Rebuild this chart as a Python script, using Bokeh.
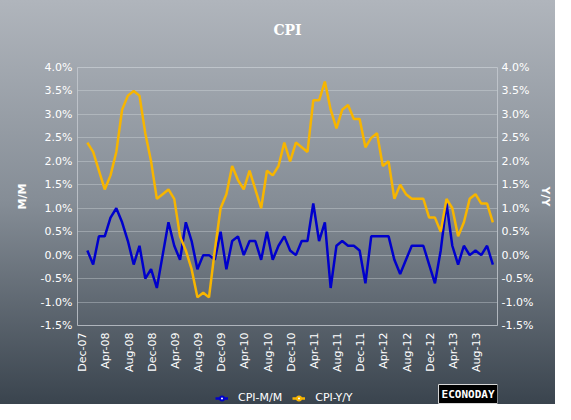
import math
from bokeh.plotting import figure
from bokeh.layouts import column
from bokeh.models import (Range1d, LinearAxis, FixedTicker, PrintfTickFormatter,
                          Legend, LegendItem, Label, ColumnDataSource)
from bokeh.embed import file_html
from bokeh.resources import INLINE

# ---- data -------------------------------------------------------------
# monthly observations, Dec-07 .. Oct-13 (index 0 = Dec-07)
cpi_mm = [0.1, -0.2, 0.4, 0.4, 0.8, 1.0, 0.7, 0.3, -0.2, 0.2, -0.5, -0.3,
          -0.7, 0.0, 0.7, 0.2, -0.1, 0.7, 0.3, -0.3, 0.0, 0.0, -0.1, 0.5,
          -0.3, 0.3, 0.4, 0.0, 0.3, 0.3, -0.1, 0.5, -0.1, 0.2, 0.4, 0.1,
          0.0, 0.3, 0.3, 1.1, 0.3, 0.7, -0.7, 0.2, 0.3, 0.2, 0.2, 0.1,
          -0.6, 0.4, 0.4, 0.4, 0.4, -0.1, -0.4, -0.1, 0.2, 0.2, 0.2, -0.2,
          -0.6, 0.1, 1.1, 0.2, -0.2, 0.2, 0.0, 0.1, 0.0, 0.2, -0.2]
cpi_yy = [2.4, 2.2, 1.8, 1.4, 1.7, 2.2, 3.1, 3.4, 3.5, 3.4, 2.6, 2.0,
          1.2, 1.3, 1.4, 1.2, 0.4, 0.1, -0.3, -0.9, -0.8, -0.9, 0.1, 1.0,
          1.3, 1.9, 1.6, 1.4, 1.8, 1.4, 1.0, 1.8, 1.7, 1.9, 2.4, 2.0,
          2.4, 2.3, 2.2, 3.3, 3.3, 3.7, 3.1, 2.7, 3.1, 3.2, 2.9, 2.9,
          2.3, 2.5, 2.6, 1.9, 2.0, 1.2, 1.5, 1.3, 1.2, 1.2, 1.2, 0.8,
          0.8, 0.5, 1.2, 1.0, 0.4, 0.7, 1.2, 1.3, 1.1, 1.1, 0.7]
month_index = list(range(len(cpi_mm)))

tick_months = [0, 4, 8, 12, 16, 20, 24, 28, 32, 36, 40, 44, 48, 52, 56, 60, 64, 68]
tick_labels = ["Dec-07", "Apr-08", "Aug-08", "Dec-08", "Apr-09", "Aug-09",
               "Dec-09", "Apr-10", "Aug-10", "Dec-10", "Apr-11", "Aug-11",
               "Dec-11", "Apr-12", "Aug-12", "Dec-12", "Apr-13", "Aug-13"]
y_ticks = [-1.5, -1.0, -0.5, 0.0, 0.5, 1.0, 1.5, 2.0, 2.5, 3.0, 3.5, 4.0]

series_names = ["CPI-M/M", "CPI-Y/Y"]
title_text = "CPI"
left_label = "M/M"
right_label = "Y/Y"
logo_text = "ECONODAY"

# ---- style -------------------------------------------------------------
BLUE = "#0000cc"
GOLD = "#f7b500"
WHITE = "#ffffff"
FONT = "DejaVu Sans"
label_shift = -0.8
W = 555
FRAME_W = 423  # width of the aligned plot frames (555 - 77 - 55)


def strip(height):
    f = figure(width=W, height=height, output_backend="svg", toolbar_location=None,
               x_range=Range1d(0, FRAME_W), y_range=Range1d(0, height),
               x_axis_location=None, y_axis_location=None,
               min_border=0, title=None)
    f.background_fill_alpha = 0
    f.border_fill_alpha = 0
    f.outline_line_color = None
    f.grid.visible = False
    return f


# ---- title strip -------------------------------------------------------
top = strip(40)
top.add_layout(Label(x=FRAME_W / 2, y=11, text=title_text, text_align="center",
                     text_baseline="middle", text_color=WHITE,
                     text_font="DejaVu Serif", text_font_style="bold",
                     text_font_size="14px"))

# ---- main chart --------------------------------------------------------
src = ColumnDataSource(dict(x=month_index, mm=cpi_mm, yy=cpi_yy))

p = figure(width=W, height=334, output_backend="svg", toolbar_location=None,
           x_range=Range1d(-1.7, 70.8), y_range=Range1d(-1.5, 4.0),
           min_border_left=77, min_border_right=55, min_border_top=27,
           min_border_bottom=48, title=None)
p.background_fill_alpha = 0
p.border_fill_alpha = 0
p.outline_line_color = "#c5cbd1"
p.outline_line_alpha = 0.8

r_mm = p.line("x", "mm", source=src, line_color=BLUE, line_width=2.5)
r_yy = p.line("x", "yy", source=src, line_color=GOLD, line_width=2.5)


def style_axis(ax):
    ax.axis_line_color = None
    ax.major_tick_line_color = None
    ax.minor_tick_line_color = None
    ax.major_tick_out = 0
    ax.major_tick_in = 0
    ax.minor_tick_out = 0
    ax.minor_tick_in = 0
    ax.major_label_text_color = WHITE
    ax.major_label_text_font = FONT
    ax.major_label_text_font_size = "11px"
    ax.axis_label_text_color = WHITE
    ax.axis_label_text_font = FONT
    ax.axis_label_text_font_size = "11px"
    ax.axis_label_text_font_style = "bold"


yt = FixedTicker(ticks=y_ticks)
yl = p.yaxis[0]
yl.ticker = yt
yl.formatter = PrintfTickFormatter(format="%.1f%%")
yl.axis_label = left_label
style_axis(yl)
yl.major_label_standoff = 5
yl.axis_label_standoff = 9

yr = LinearAxis(ticker=FixedTicker(ticks=y_ticks),
                formatter=PrintfTickFormatter(format="%.1f%%"),
                axis_label=right_label)
style_axis(yr)
yr.major_label_standoff = 4
yr.axis_label_standoff = 3
p.add_layout(yr, "right")

xa = p.xaxis[0]
tick_pos = [m + label_shift for m in tick_months]
xa.ticker = FixedTicker(ticks=tick_pos)
xa.major_label_overrides = {pos: lab for pos, lab in zip(tick_pos, tick_labels)}
xa.major_label_orientation = math.pi / 2
style_axis(xa)
xa.major_label_standoff = 7

p.xgrid.visible = False
p.ygrid.ticker = yt
p.ygrid.grid_line_color = "#dde1e5"
p.ygrid.grid_line_alpha = 0.35

# ---- legend strip ------------------------------------------------------
leg = strip(30)
# same series, hidden: only their legend glyphs are shown
l_mm = leg.line(month_index, cpi_mm, line_color=BLUE, line_width=2.5, visible=False)
s_mm = leg.scatter(month_index, cpi_mm, marker="circle", size=7, fill_color=WHITE,
                   line_color=BLUE, line_width=2, visible=False)
l_yy = leg.line(month_index, cpi_yy, line_color=GOLD, line_width=2.5, visible=False)
s_yy = leg.scatter(month_index, cpi_yy, marker="circle", size=7, fill_color=WHITE,
                   line_color=GOLD, line_width=2, visible=False)

legend = Legend(items=[LegendItem(label=series_names[0], renderers=[l_mm, s_mm]),
                       LegendItem(label=series_names[1], renderers=[l_yy, s_yy])],
                orientation="horizontal", location=(138, 0),
                background_fill_alpha=0, border_line_alpha=0,
                inactive_fill_alpha=0,
                label_text_color=WHITE, label_text_font=FONT,
                label_text_font_size="11px", glyph_width=13, glyph_height=10,
                label_height=12, label_standoff=10, spacing=10, padding=0, margin=0)
leg.add_layout(legend)

logo = Label(x=FRAME_W, y=1, text=logo_text, text_align="right",
             text_baseline="bottom", text_color=WHITE,
             text_font="DejaVu Sans Mono", text_font_style="bold",
             text_font_size="11px", background_fill_color="#000000",
             border_line_color="#d8d8d8", border_line_width=1, padding=3)
leg.add_layout(logo)

layout = column(top, p, leg, spacing=0)
layout.styles = {"background": "linear-gradient(to bottom, #b0b5bc 0%, #858d96 50%, #3a444e 100%)"}

open("out.html", "w").write(file_html(layout, INLINE))
